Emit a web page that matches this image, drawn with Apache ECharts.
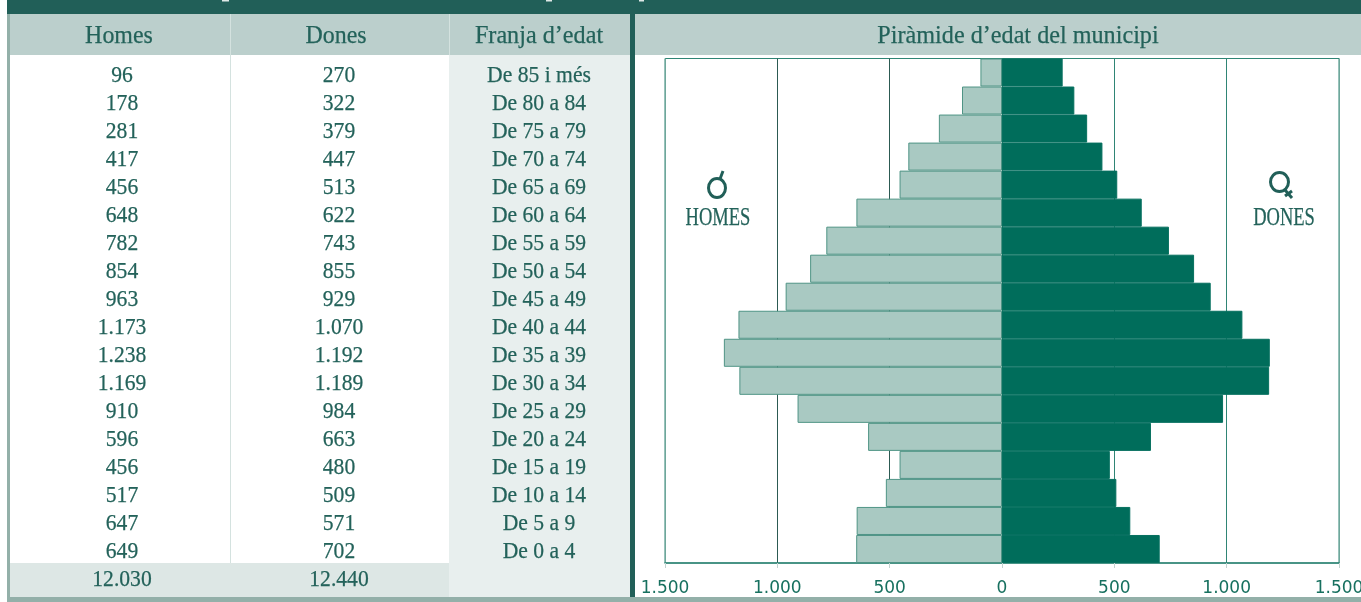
<!DOCTYPE html>
<html>
<head>
<meta charset="utf-8">
<title>Piràmide d'edat del municipi</title>
<style>
  html, body { margin: 0; padding: 0; background: #fff; overflow: hidden; }
  #chart { width: 1361px; height: 602px; }
</style>
<script src="https://cdn.jsdelivr.net/npm/echarts@6/dist/echarts.min.js"></script>
</head>
<body>
<div id="chart"></div>
<script>
const franges = ['De 85 i més', 'De 80 a 84', 'De 75 a 79', 'De 70 a 74', 'De 65 a 69', 'De 60 a 64',
  'De 55 a 59', 'De 50 a 54', 'De 45 a 49', 'De 40 a 44', 'De 35 a 39', 'De 30 a 34',
  'De 25 a 29', 'De 20 a 24', 'De 15 a 19', 'De 10 a 14', 'De 5 a 9', 'De 0 a 4'];
const homes = [96, 178, 281, 417, 456, 648, 782, 854, 963, 1173, 1238, 1169, 910, 596, 456, 517, 647, 649];
const dones = [270, 322, 379, 447, 513, 622, 743, 855, 929, 1070, 1192, 1189, 984, 663, 480, 509, 571, 702];
const totalHomes = 12030;
const totalDones = 12440;
const capcaleres = ['Homes', 'Dones', "Franja d’edat", "Piràmide d’edat del municipi"];

const DARK = '#215f58';
const TEXT = '#23625a';
const TEAL = '#2f8575';
const SERIF = '"Liberation Serif", serif';

const fmt = v => Math.abs(v).toString().replace(/\B(?=(\d{3})+$)/g, '.');

const rect = (x, y, width, height, fill) => ({
  type: 'rect', silent: true, z: 0,
  shape: { x, y, width, height },
  style: { fill }
});
const label = (text, x, y, size, scaleX) => ({
  type: 'text', silent: true, z: 5, x, y, scaleX: scaleX || 1,
  style: {
    text, x: 0, y: 0, fill: TEXT, stroke: TEXT, lineWidth: 0.25,
    align: 'center', verticalAlign: 'middle', font: size + 'px ' + SERIF
  }
});

// table columns, everything hand-placed on the same 28px rows as the bars
const colHomes = 119, colDones = 336, colFranja = 539;
const rowTop = 61, rowH = 28;
const background = [
  rect(7, 0, 1354, 14, DARK),
  rect(7, 14, 3, 588, '#93b0a9'),
  rect(10, 14, 1351, 41, '#bbcfcc'),
  rect(449, 55, 181, 542, '#e8efee'),
  rect(10, 563, 439, 34, '#dde7e5'),
  rect(230, 14, 1, 549, '#d4e2df'),
  rect(449, 14, 1, 41, '#d4e2df'),
  rect(630, 14, 5, 583, DARK),
  rect(7, 597, 1354, 5, '#93b0a9'),
  // cut off title descenders at the top of the crop
  rect(222, 0, 7, 1.5, '#dfe9e7'),
  rect(546, 0, 6, 1.5, '#dfe9e7'),
  rect(639, 0, 5, 1.5, '#dfe9e7')
];

const texts = [
  label(capcaleres[0], colHomes, 36, 26, 0.92),
  label(capcaleres[1], colDones, 36, 26, 0.92),
  label(capcaleres[2], colFranja, 36, 26, 0.93),
  label(capcaleres[3], 1018, 36, 26, 0.93),
  label(fmt(totalHomes), colHomes + 3, 580, 24, 0.9),
  label(fmt(totalDones), colDones + 3, 580, 24, 0.9),
  label('HOMES', 718, 218, 25, 0.74),
  label('DONES', 1284, 218, 25, 0.74)
];
franges.forEach((f, i) => {
  const y = rowTop + rowH * i + 15;
  texts.push(label(fmt(homes[i]), colHomes + 3, y, 24, 0.9));
  texts.push(label(fmt(dones[i]), colDones + 3, y, 24, 0.9));
  texts.push(label(f, colFranja, y, 24, 0.9));
});

const stroke = { stroke: DARK, lineWidth: 3, fill: 'none' };
const simbols = [
  { type: 'ellipse', silent: true, z: 5, shape: { cx: 717, cy: 188, rx: 8.5, ry: 9.5 }, style: stroke },
  { type: 'line', silent: true, z: 5, shape: { x1: 720, y1: 179, x2: 723, y2: 171 }, style: stroke },
  { type: 'ellipse', silent: true, z: 5, shape: { cx: 1279.5, cy: 182, rx: 9, ry: 9.5 }, style: stroke },
  { type: 'line', silent: true, z: 5, shape: { x1: 1285, y1: 190, x2: 1292, y2: 198 }, style: stroke },
  { type: 'line', silent: true, z: 5, shape: { x1: 1285, y1: 196, x2: 1292, y2: 191 }, style: stroke }
];

const chart = echarts.init(document.getElementById('chart'));
chart.setOption({
  animation: false,
  backgroundColor: '#ffffff',
  graphic: { elements: background.concat(texts, simbols) },
  grid: {
    left: 665, right: 22, top: 58.5, height: 504.5,
    outerBoundsMode: 'none',
    show: true, borderColor: TEAL, borderWidth: 1, z: 2
  },
  xAxis: {
    type: 'value',
    min: -1500,
    max: 1500,
    interval: 500,
    z: 3,
    axisLine: { show: true, onZero: false, lineStyle: { color: TEAL, width: 1.5 } },
    axisTick: { show: true, length: 5, lineStyle: { color: '#c3d3d0' } },
    axisLabel: {
      formatter: fmt,
      color: '#17705f',
      margin: 17,
      fontFamily: '"DejaVu Sans", sans-serif',
      fontSize: 17,
      showMinLabel: true,
      showMaxLabel: true,
      hideOverlap: false
    },
    splitLine: {
      show: true,
      lineStyle: { color: ['#6fa79b', '#2c5a52', '#2c5a52', TEAL, TEAL, TEAL, '#6fa79b'], width: 1 }
    }
  },
  yAxis: {
    type: 'category',
    inverse: true,
    data: franges,
    axisLine: { show: false },
    axisTick: { show: false },
    axisLabel: { show: false },
    splitLine: { show: false }
  },
  series: [
    {
      name: 'Homes',
      type: 'bar',
      stack: 'piramide',
      z: 4,
      barWidth: '100%',
      data: homes.map(v => -v),
      itemStyle: { color: '#a9c9c2', borderColor: '#4f9485', borderWidth: 1 }
    },
    {
      name: 'Dones',
      type: 'bar',
      stack: 'piramide',
      z: 4,
      barWidth: '100%',
      data: dones,
      itemStyle: { color: '#006d5b', borderColor: '#06705f', borderWidth: 1 }
    }
  ]
});
</script>
</body>
</html>
